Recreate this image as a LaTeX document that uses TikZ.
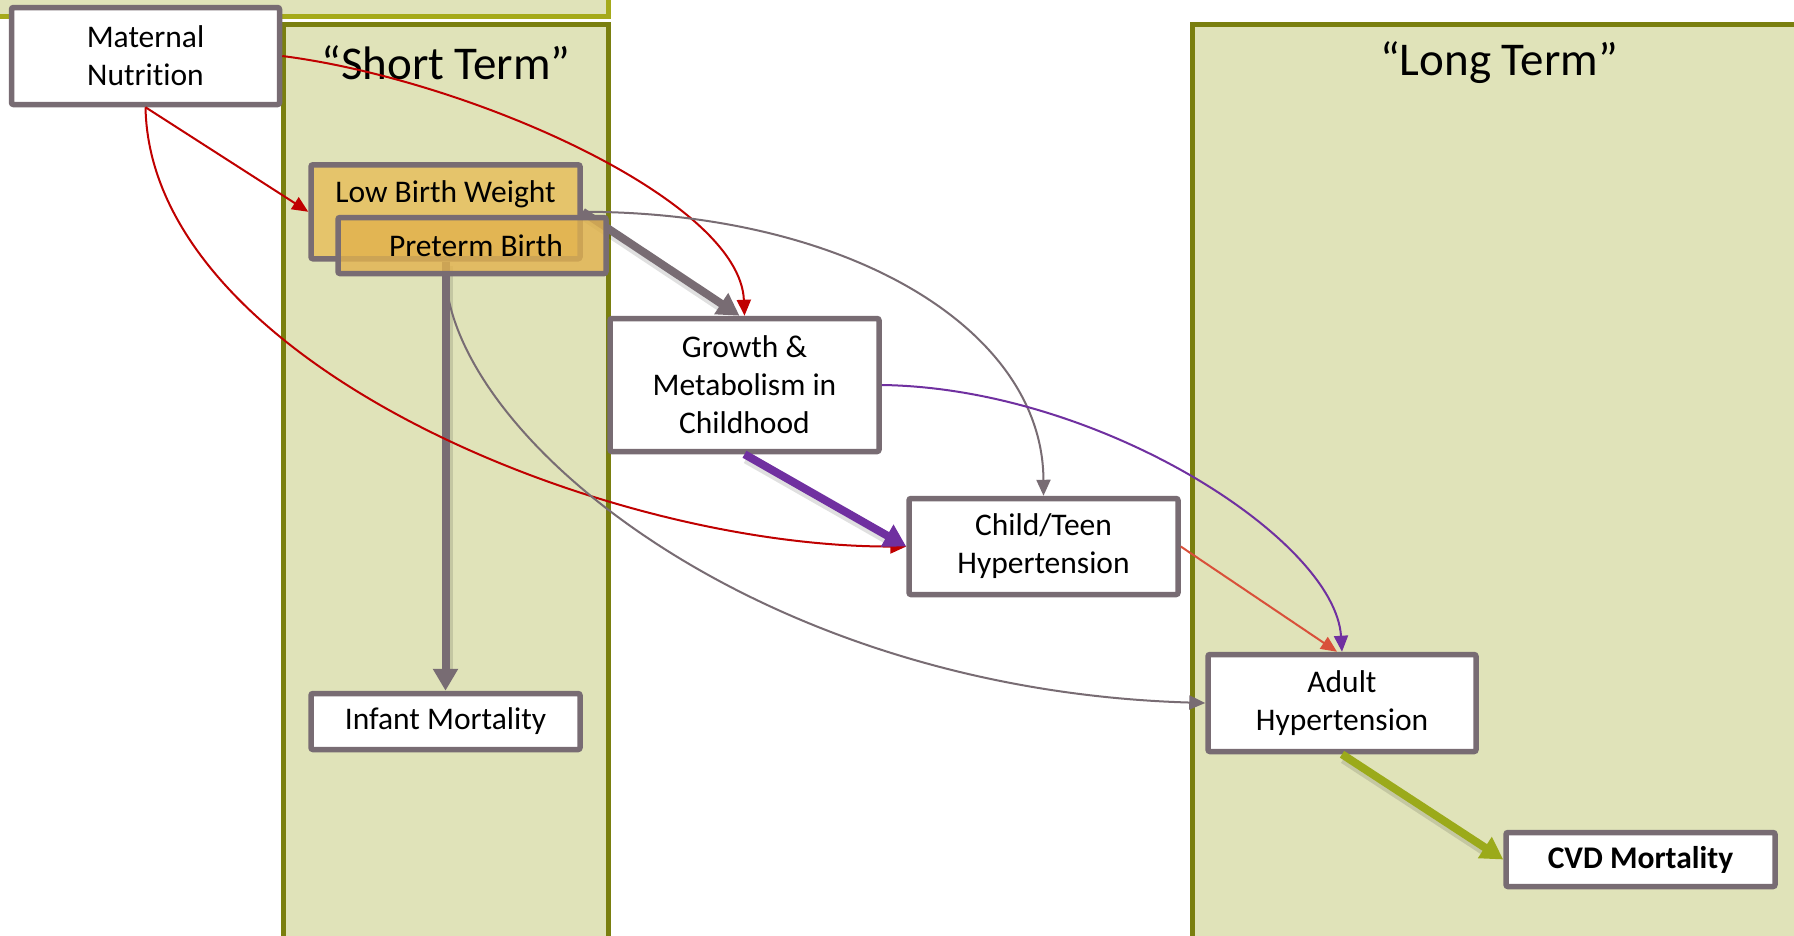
\documentclass[tikz,border=0pt]{standalone}
\usepackage{fontspec}
\setmainfont[Ligatures=CommonOff]{Carlito}
\usetikzlibrary{arrows.meta,calc}
\definecolor{panelfill}{HTML}{E0E3B9}
\definecolor{paneldraw}{HTML}{7A7F0F}
\definecolor{topdraw}{HTML}{A5AA1A}
\definecolor{boxgray}{HTML}{786C73}
\definecolor{arrred}{HTML}{C00000}
\definecolor{arrpurple}{HTML}{7030A0}
\definecolor{arrgreen}{HTML}{9BAA1A}
\definecolor{arrorange}{HTML}{D9503A}
\definecolor{lbwfill}{HTML}{E5C46B}
\definecolor{prefill}{HTML}{E2B24E}
\begin{document}
\begin{tikzpicture}[x=1pt,y=1pt,
  box/.style={draw=boxgray, line width=5.5pt, fill=white, rounded corners=2pt,
    align=center, inner sep=0pt, font=\fontsize{31.5}{38}\selectfont},
  thinarrow/.style={line width=2pt, -{Triangle[length=16pt,width=14pt]}},
  thickarrow/.style={line width=8pt, -{Triangle[length=22pt,width=24pt]},
    preaction={draw=black, draw opacity=0.12, line width=11pt, -, shorten >=18pt,
      transform canvas={xshift=2pt,yshift=-4pt}}},
  panel/.style={fill=panelfill, draw=paneldraw, line width=5pt},
  paneltitle/.style={font=\fontsize{47}{56}\selectfont, inner sep=0pt}]
\useasboundingbox (0,0) rectangle (1794,-935);
\fill[white] (0,0) rectangle (1794,-935);
% panels
\draw[fill=panelfill, draw=topdraw, line width=5pt] (-10,20) rectangle (608,-16.5);
\draw[panel] (283,-24.5) rectangle (608,-950);
\draw[panel] (1192,-24.5) rectangle (1820,-950);
\node[paneltitle] (st) at (446,-63) {“Short Term”};
\node[paneltitle] (lt) at (1499,-63) {“Long Term”};
% nodes
\node[box, minimum width=268pt, minimum height=97pt] (mat) at (145.5,-56) {Maternal\\Nutrition};
\node[box, fill=lbwfill, minimum width=269pt, text height=38pt, text depth=56pt, anchor=north] (lbw) at (445.5,-162) {Low Birth Weight};
\node[box, minimum width=269pt, minimum height=133pt] (grow) at (744.5,-385) {Growth \&\\Metabolism in\\Childhood};
\node[box, minimum width=269pt, minimum height=56pt] (inf) at (445.5,-721.5) {Infant Mortality};
% thick arrows from LBW (under preterm box)
\draw[thickarrow, boxgray] (lbw.south) -- (inf.north);
\draw[thickarrow, boxgray] (lbw.east) -- ($(grow.north)+(-5,0)$);
\node[box, fill=prefill, fill opacity=0.8, text opacity=1, draw opacity=1, minimum width=268pt, minimum height=56pt] (pre) at (472,-245.5) {\hspace*{8pt}Preterm Birth};
\node[box, minimum width=269pt, minimum height=96pt] (child) at (1043.5,-546.5) {Child/Teen\\Hypertension};
\node[box, minimum width=268pt, minimum height=97pt] (adult) at (1342,-703) {Adult\\Hypertension};
\node[box, minimum width=269pt, minimum height=54pt, font=\fontsize{31.5}{38}\selectfont\bfseries] (cvd) at (1640.5,-859.5) {CVD Mortality};
% thin connectors
\draw[thinarrow, arrred] (mat.south) -- (lbw.west);
\draw[thinarrow, arrred] (mat.east) .. controls (470,-80) and (740,-200) .. (grow.north);
\draw[thinarrow, arrred] (mat.south) .. controls (150,-360) and (600,-547) .. (child.west);
\draw[thinarrow, boxgray] (lbw.east) .. controls (850,-212) and (1043,-330) .. (child.north);
\draw[thinarrow, boxgray] (lbw.south |- pre.south) .. controls (455,-440) and (760,-690) .. (adult.west);
\draw[thinarrow, arrorange] (child.east) -- ($(adult.north)+(-5,0)$);
\draw[thinarrow, arrpurple] (grow.east) .. controls (1100,-388) and (1335,-540) .. (adult.north);
% thick connectors
\draw[thickarrow, arrpurple] (grow.south) -- (child.west);
\draw[thickarrow, arrgreen] (adult.south) -- (cvd.west);
\end{tikzpicture}
\end{document}
